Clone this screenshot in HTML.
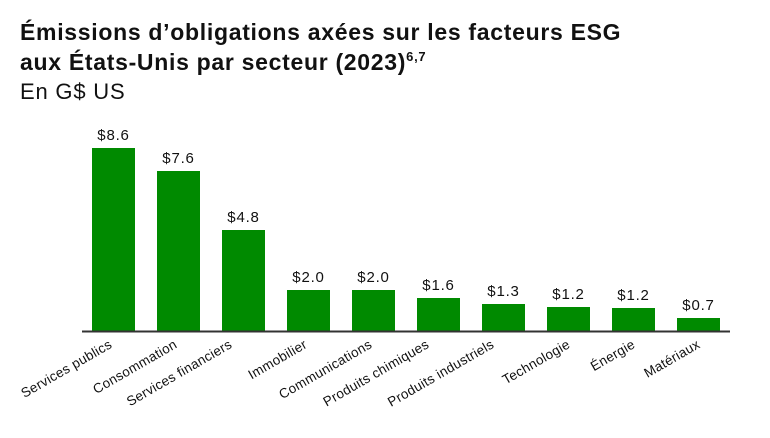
<!DOCTYPE html>
<html><head><meta charset="utf-8"><style>
body{margin:0;background:#fff;width:770px;height:433px;overflow:hidden;font-family:"Liberation Sans",sans-serif}
</style></head><body>
<svg width="770" height="433" xmlns="http://www.w3.org/2000/svg" font-family="Liberation Sans, sans-serif">
<text x="20" y="40" font-size="23" font-weight="bold" fill="#111" letter-spacing="0.7">Émissions d’obligations axées sur les facteurs ESG</text>
<text x="20" y="70" font-size="23" font-weight="bold" fill="#111" letter-spacing="0.7">aux États-Unis par secteur (2023)<tspan font-size="13" dy="-9">6,7</tspan></text>
<text x="20" y="99" font-size="22" fill="#111" letter-spacing="0.8">En G$ US</text>
<g fill="#008a00">
<rect x="92" y="148" width="43" height="183"/>
<rect x="157" y="171" width="43" height="160"/>
<rect x="222" y="230" width="43" height="101"/>
<rect x="287" y="290" width="43" height="41"/>
<rect x="352" y="290" width="43" height="41"/>
<rect x="417" y="298" width="43" height="33"/>
<rect x="482" y="304" width="43" height="27"/>
<rect x="547" y="307" width="43" height="24"/>
<rect x="612" y="308" width="43" height="23"/>
<rect x="677" y="318" width="43" height="13"/>
</g>
<line x1="82" y1="331.5" x2="730" y2="331.5" stroke="#333" stroke-width="2"/>
<g font-size="15" fill="#111" text-anchor="middle" letter-spacing="0.8">
<text x="113.5" y="140">$8.6</text>
<text x="178.5" y="163">$7.6</text>
<text x="243.5" y="222">$4.8</text>
<text x="308.5" y="282">$2.0</text>
<text x="373.5" y="282">$2.0</text>
<text x="438.5" y="290">$1.6</text>
<text x="503.5" y="296">$1.3</text>
<text x="568.5" y="299">$1.2</text>
<text x="633.5" y="300">$1.2</text>
<text x="698.5" y="310">$0.7</text>
</g>
<g font-size="13.5" fill="#111" text-anchor="end" letter-spacing="0.3">
<text transform="translate(113,347) rotate(-30)">Services publics</text>
<text transform="translate(178,347) rotate(-30)">Consommation</text>
<text transform="translate(233,347) rotate(-30)">Services financiers</text>
<text transform="translate(308,347) rotate(-30)">Immobilier</text>
<text transform="translate(373,347) rotate(-30)">Communications</text>
<text transform="translate(430,347) rotate(-30)">Produits chimiques</text>
<text transform="translate(495,347) rotate(-30)">Produits industriels</text>
<text transform="translate(571,347) rotate(-30)">Technologie</text>
<text transform="translate(636,347) rotate(-30)">Énergie</text>
<text transform="translate(701,347) rotate(-30)">Matériaux</text>
</g>
</svg>
</body></html>
